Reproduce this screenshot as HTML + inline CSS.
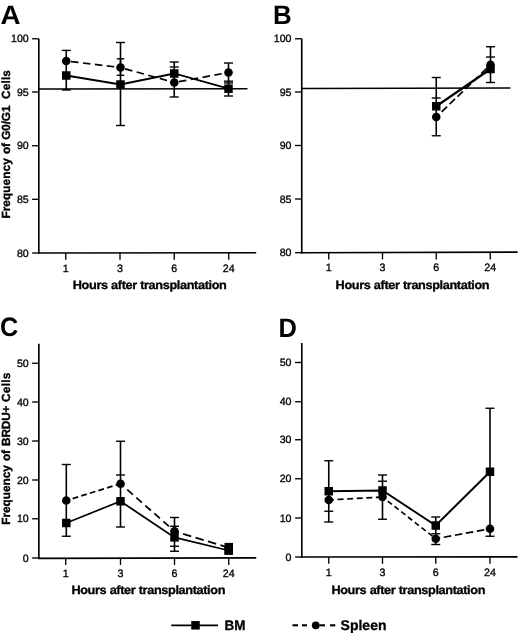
<!DOCTYPE html>
<html><head><meta charset="utf-8"><title>Figure</title>
<style>
html,body{margin:0;padding:0;background:#fff;}
body{width:520px;height:635px;overflow:hidden;}
svg{display:block;}
svg text{text-rendering:geometricPrecision;font-family:"Liberation Sans",Arial,Helvetica,sans-serif;fill:#000;}
</style></head><body>
<svg width="520" height="635" viewBox="0 0 520 635">
<defs><filter id="soft" x="0" y="0" width="520" height="635" filterUnits="userSpaceOnUse"><feGaussianBlur stdDeviation="0.35"/></filter></defs>
<rect width="520" height="635" fill="#fff"/>
<g filter="url(#soft)">
<line x1="38.8" y1="38.75" x2="38.8" y2="253.8" stroke="#000" stroke-width="1.65" stroke-linecap="butt"/>
<line x1="38.0" y1="253" x2="256.2" y2="252.75" stroke="#000" stroke-width="1.65" stroke-linecap="butt"/>
<line x1="32.099999999999994" y1="38.75" x2="38.8" y2="38.75" stroke="#000" stroke-width="1.35" stroke-linecap="butt"/>
<text x="28.7" y="42.25" font-size="10.6" text-anchor="end" stroke="#000" stroke-width="0.32">100</text>
<line x1="32.099999999999994" y1="92" x2="38.8" y2="92" stroke="#000" stroke-width="1.35" stroke-linecap="butt"/>
<text x="28.7" y="95.5" font-size="10.6" text-anchor="end" stroke="#000" stroke-width="0.32">95</text>
<line x1="32.099999999999994" y1="145.75" x2="38.8" y2="145.75" stroke="#000" stroke-width="1.35" stroke-linecap="butt"/>
<text x="28.7" y="149.25" font-size="10.6" text-anchor="end" stroke="#000" stroke-width="0.32">90</text>
<line x1="32.099999999999994" y1="199.3" x2="38.8" y2="199.3" stroke="#000" stroke-width="1.35" stroke-linecap="butt"/>
<text x="28.7" y="202.8" font-size="10.6" text-anchor="end" stroke="#000" stroke-width="0.32">85</text>
<line x1="32.099999999999994" y1="253" x2="38.8" y2="253" stroke="#000" stroke-width="1.35" stroke-linecap="butt"/>
<text x="28.7" y="256.5" font-size="10.6" text-anchor="end" stroke="#000" stroke-width="0.32">80</text>
<line x1="65.75" y1="253" x2="65.75" y2="259.7" stroke="#000" stroke-width="1.35" stroke-linecap="butt"/>
<text x="65.75" y="271.8" font-size="10.7" text-anchor="middle" stroke="#000" stroke-width="0.32">1</text>
<line x1="120" y1="253" x2="120" y2="259.7" stroke="#000" stroke-width="1.35" stroke-linecap="butt"/>
<text x="120" y="271.8" font-size="10.7" text-anchor="middle" stroke="#000" stroke-width="0.32">3</text>
<line x1="174.25" y1="253" x2="174.25" y2="259.7" stroke="#000" stroke-width="1.35" stroke-linecap="butt"/>
<text x="174.25" y="271.8" font-size="10.7" text-anchor="middle" stroke="#000" stroke-width="0.32">6</text>
<line x1="228.75" y1="253" x2="228.75" y2="259.7" stroke="#000" stroke-width="1.35" stroke-linecap="butt"/>
<text x="228.75" y="271.8" font-size="10.7" text-anchor="middle" stroke="#000" stroke-width="0.32">24</text>
<text x="0.5" y="23.6" font-size="26.7" text-anchor="start" font-weight="bold" transform="translate(0.5 23.6) scale(1.04 1) translate(-0.5 -23.6)">A</text>
<text x="72.8" y="288.9" font-size="12.0" text-anchor="start" font-weight="bold" stroke="#000" stroke-width="0.3" letter-spacing="-0.35" word-spacing="0.2" transform="translate(72.8 288.9) scale(1.06 1) translate(-72.8 -288.9)">Hours after transplantation</text>
<text x="10.3" y="218.6" font-size="11.8" text-anchor="start" font-weight="bold" stroke="#000" stroke-width="0.35" letter-spacing="-0.12" word-spacing="2.1" transform="rotate(-90 10.3 218.6)"><tspan letter-spacing="0.09">Frequency</tspan> <tspan dx="-1.1">of</tspan> <tspan dx="-2.0">G0/G1</tspan> <tspan dx="1.3" letter-spacing="0.2">Cells</tspan></text>
<line x1="38.75" y1="89" x2="247.5" y2="88.7" stroke="#000" stroke-width="1.5" stroke-linecap="butt"/>
<line x1="66.25" y1="50.4" x2="66.25" y2="90" stroke="#000" stroke-width="1.6" stroke-linecap="butt"/>
<line x1="61.75" y1="50.4" x2="70.75" y2="50.4" stroke="#000" stroke-width="1.4" stroke-linecap="butt"/>
<line x1="61.75" y1="90" x2="70.75" y2="90" stroke="#000" stroke-width="1.4" stroke-linecap="butt"/>
<line x1="120.5" y1="42.5" x2="120.5" y2="125.5" stroke="#000" stroke-width="1.6" stroke-linecap="butt"/>
<line x1="116.0" y1="42.5" x2="125.0" y2="42.5" stroke="#000" stroke-width="1.4" stroke-linecap="butt"/>
<line x1="116.0" y1="125.5" x2="125.0" y2="125.5" stroke="#000" stroke-width="1.4" stroke-linecap="butt"/>
<line x1="120.5" y1="58.8" x2="120.5" y2="75.3" stroke="#000" stroke-width="1.6" stroke-linecap="butt"/>
<line x1="116.75" y1="58.8" x2="124.25" y2="58.8" stroke="#000" stroke-width="1.4" stroke-linecap="butt"/>
<line x1="116.75" y1="75.3" x2="124.25" y2="75.3" stroke="#000" stroke-width="1.4" stroke-linecap="butt"/>
<line x1="174.25" y1="62" x2="174.25" y2="97" stroke="#000" stroke-width="1.6" stroke-linecap="butt"/>
<line x1="169.75" y1="62" x2="178.75" y2="62" stroke="#000" stroke-width="1.4" stroke-linecap="butt"/>
<line x1="169.75" y1="67" x2="178.75" y2="67" stroke="#000" stroke-width="1.4" stroke-linecap="butt"/>
<line x1="169.75" y1="97" x2="178.75" y2="97" stroke="#000" stroke-width="1.4" stroke-linecap="butt"/>
<line x1="228.5" y1="63" x2="228.5" y2="96" stroke="#000" stroke-width="1.6" stroke-linecap="butt"/>
<line x1="224.0" y1="63" x2="233.0" y2="63" stroke="#000" stroke-width="1.4" stroke-linecap="butt"/>
<line x1="224.0" y1="81.2" x2="233.0" y2="81.2" stroke="#000" stroke-width="1.4" stroke-linecap="butt"/>
<line x1="224.0" y1="83" x2="233.0" y2="83" stroke="#000" stroke-width="1.4" stroke-linecap="butt"/>
<line x1="224.0" y1="96" x2="233.0" y2="96" stroke="#000" stroke-width="1.4" stroke-linecap="butt"/>
<polyline fill="none" stroke="#000" stroke-width="1.8" points="66.25,75.5 120.5,84.5 174.25,73.5 228.5,88.7"/>
<line x1="66.25" y1="61" x2="120.5" y2="67.5" stroke="#000" stroke-width="1.75" stroke-dasharray="7.5 4.5" stroke-dashoffset="7.2"/>
<line x1="120.5" y1="67.5" x2="174.25" y2="82.5" stroke="#000" stroke-width="1.75" stroke-dasharray="7.5 4.5" stroke-dashoffset="7.2"/>
<line x1="174.25" y1="82.5" x2="228.5" y2="72.5" stroke="#000" stroke-width="1.75" stroke-dasharray="7.5 4.5" stroke-dashoffset="7.2"/>
<circle cx="66.25" cy="61" r="4.3" fill="#000"/>
<circle cx="120.5" cy="67.5" r="4.3" fill="#000"/>
<circle cx="174.25" cy="82.5" r="4.3" fill="#000"/>
<circle cx="228.5" cy="72.5" r="4.3" fill="#000"/>
<rect x="62.0" y="71.25" width="8.5" height="8.5" fill="#000"/>
<rect x="116.25" y="80.25" width="8.5" height="8.5" fill="#000"/>
<rect x="170.0" y="69.25" width="8.5" height="8.5" fill="#000"/>
<rect x="224.25" y="84.45" width="8.5" height="8.5" fill="#000"/>
<line x1="301.75" y1="38.75" x2="301.75" y2="253.5" stroke="#000" stroke-width="1.65" stroke-linecap="butt"/>
<line x1="300.95" y1="252.7" x2="517.7" y2="252.1" stroke="#000" stroke-width="1.65" stroke-linecap="butt"/>
<line x1="295.05" y1="38.75" x2="301.75" y2="38.75" stroke="#000" stroke-width="1.35" stroke-linecap="butt"/>
<text x="291.5" y="42.25" font-size="10.6" text-anchor="end" stroke="#000" stroke-width="0.32">100</text>
<line x1="295.05" y1="92" x2="301.75" y2="92" stroke="#000" stroke-width="1.35" stroke-linecap="butt"/>
<text x="291.5" y="95.5" font-size="10.6" text-anchor="end" stroke="#000" stroke-width="0.32">95</text>
<line x1="295.05" y1="145.5" x2="301.75" y2="145.5" stroke="#000" stroke-width="1.35" stroke-linecap="butt"/>
<text x="291.5" y="149.0" font-size="10.6" text-anchor="end" stroke="#000" stroke-width="0.32">90</text>
<line x1="295.05" y1="199" x2="301.75" y2="199" stroke="#000" stroke-width="1.35" stroke-linecap="butt"/>
<text x="291.5" y="202.5" font-size="10.6" text-anchor="end" stroke="#000" stroke-width="0.32">85</text>
<line x1="295.05" y1="252.7" x2="301.75" y2="252.7" stroke="#000" stroke-width="1.35" stroke-linecap="butt"/>
<text x="291.5" y="256.2" font-size="10.6" text-anchor="end" stroke="#000" stroke-width="0.32">80</text>
<line x1="328.75" y1="252.7" x2="328.75" y2="259.4" stroke="#000" stroke-width="1.35" stroke-linecap="butt"/>
<text x="328.75" y="271.2" font-size="10.7" text-anchor="middle" stroke="#000" stroke-width="0.32">1</text>
<line x1="382.5" y1="252.7" x2="382.5" y2="259.4" stroke="#000" stroke-width="1.35" stroke-linecap="butt"/>
<text x="382.5" y="271.2" font-size="10.7" text-anchor="middle" stroke="#000" stroke-width="0.32">3</text>
<line x1="436.25" y1="252.7" x2="436.25" y2="259.4" stroke="#000" stroke-width="1.35" stroke-linecap="butt"/>
<text x="436.25" y="271.2" font-size="10.7" text-anchor="middle" stroke="#000" stroke-width="0.32">6</text>
<line x1="490.25" y1="252.7" x2="490.25" y2="259.4" stroke="#000" stroke-width="1.35" stroke-linecap="butt"/>
<text x="490.25" y="271.2" font-size="10.7" text-anchor="middle" stroke="#000" stroke-width="0.32">24</text>
<text x="273" y="23.5" font-size="26.7" text-anchor="start" font-weight="bold" transform="translate(273 23.5) scale(0.97 1) translate(-273 -23.5)">B</text>
<text x="335.6" y="288.9" font-size="12.0" text-anchor="start" font-weight="bold" stroke="#000" stroke-width="0.3" letter-spacing="-0.35" word-spacing="0.2" transform="translate(335.6 288.9) scale(1.06 1) translate(-335.6 -288.9)">Hours after transplantation</text>
<line x1="301.75" y1="88.4" x2="510.5" y2="87.9" stroke="#000" stroke-width="1.5" stroke-linecap="butt"/>
<line x1="436.25" y1="77.5" x2="436.25" y2="135.75" stroke="#000" stroke-width="1.6" stroke-linecap="butt"/>
<line x1="431.75" y1="77.5" x2="440.75" y2="77.5" stroke="#000" stroke-width="1.4" stroke-linecap="butt"/>
<line x1="431.75" y1="98" x2="440.75" y2="98" stroke="#000" stroke-width="1.4" stroke-linecap="butt"/>
<line x1="431.75" y1="135.75" x2="440.75" y2="135.75" stroke="#000" stroke-width="1.4" stroke-linecap="butt"/>
<line x1="490.5" y1="46.75" x2="490.5" y2="82.5" stroke="#000" stroke-width="1.6" stroke-linecap="butt"/>
<line x1="486.0" y1="46.75" x2="495.0" y2="46.75" stroke="#000" stroke-width="1.4" stroke-linecap="butt"/>
<line x1="486.0" y1="57" x2="495.0" y2="57" stroke="#000" stroke-width="1.4" stroke-linecap="butt"/>
<line x1="486.0" y1="82.5" x2="495.0" y2="82.5" stroke="#000" stroke-width="1.4" stroke-linecap="butt"/>
<polyline fill="none" stroke="#000" stroke-width="2.2" points="436.25,106.25 490.5,69"/>
<line x1="436.25" y1="117" x2="490.5" y2="64.8" stroke="#000" stroke-width="1.75" stroke-dasharray="7.5 3.5" stroke-dashoffset="3.5"/>
<circle cx="436.25" cy="117" r="4.3" fill="#000"/>
<circle cx="490.5" cy="64.8" r="4.3" fill="#000"/>
<rect x="432.0" y="102.0" width="8.5" height="8.5" fill="#000"/>
<rect x="486.25" y="64.75" width="8.5" height="8.5" fill="#000"/>
<line x1="38.85" y1="343.75" x2="38.85" y2="559.0999999999999" stroke="#000" stroke-width="1.65" stroke-linecap="butt"/>
<line x1="38.050000000000004" y1="558.3" x2="256.25" y2="557.9" stroke="#000" stroke-width="1.65" stroke-linecap="butt"/>
<line x1="32.15" y1="363.25" x2="38.85" y2="363.25" stroke="#000" stroke-width="1.35" stroke-linecap="butt"/>
<text x="28.7" y="366.75" font-size="10.6" text-anchor="end" stroke="#000" stroke-width="0.32">50</text>
<line x1="32.15" y1="402" x2="38.85" y2="402" stroke="#000" stroke-width="1.35" stroke-linecap="butt"/>
<text x="28.7" y="405.5" font-size="10.6" text-anchor="end" stroke="#000" stroke-width="0.32">40</text>
<line x1="32.15" y1="441" x2="38.85" y2="441" stroke="#000" stroke-width="1.35" stroke-linecap="butt"/>
<text x="28.7" y="444.5" font-size="10.6" text-anchor="end" stroke="#000" stroke-width="0.32">30</text>
<line x1="32.15" y1="480" x2="38.85" y2="480" stroke="#000" stroke-width="1.35" stroke-linecap="butt"/>
<text x="28.7" y="483.5" font-size="10.6" text-anchor="end" stroke="#000" stroke-width="0.32">20</text>
<line x1="32.15" y1="518.75" x2="38.85" y2="518.75" stroke="#000" stroke-width="1.35" stroke-linecap="butt"/>
<text x="28.7" y="522.25" font-size="10.6" text-anchor="end" stroke="#000" stroke-width="0.32">10</text>
<line x1="32.15" y1="558.0" x2="38.85" y2="558.0" stroke="#000" stroke-width="1.35" stroke-linecap="butt"/>
<text x="28.7" y="561.5" font-size="10.6" text-anchor="end" stroke="#000" stroke-width="0.32">0</text>
<line x1="65.75" y1="558.3" x2="65.75" y2="565.0" stroke="#000" stroke-width="1.35" stroke-linecap="butt"/>
<text x="65.75" y="576.8" font-size="10.7" text-anchor="middle" stroke="#000" stroke-width="0.32">1</text>
<line x1="120.5" y1="558.3" x2="120.5" y2="565.0" stroke="#000" stroke-width="1.35" stroke-linecap="butt"/>
<text x="120.5" y="576.8" font-size="10.7" text-anchor="middle" stroke="#000" stroke-width="0.32">3</text>
<line x1="174.5" y1="558.3" x2="174.5" y2="565.0" stroke="#000" stroke-width="1.35" stroke-linecap="butt"/>
<text x="174.5" y="576.8" font-size="10.7" text-anchor="middle" stroke="#000" stroke-width="0.32">6</text>
<line x1="228.75" y1="558.3" x2="228.75" y2="565.0" stroke="#000" stroke-width="1.35" stroke-linecap="butt"/>
<text x="228.75" y="576.8" font-size="10.7" text-anchor="middle" stroke="#000" stroke-width="0.32">24</text>
<text x="-0.1" y="336.4" font-size="26.7" text-anchor="start" font-weight="bold" transform="translate(-0.1 336.4) scale(0.945 1) translate(0.1 -336.4)">C</text>
<text x="71.4" y="594" font-size="12.0" text-anchor="start" font-weight="bold" stroke="#000" stroke-width="0.3" letter-spacing="-0.35" word-spacing="0.2" transform="translate(71.4 594) scale(1.06 1) translate(-71.4 -594)">Hours after transplantation</text>
<text x="10.3" y="524.8" font-size="11.8" text-anchor="start" font-weight="bold" stroke="#000" stroke-width="0.35" letter-spacing="-0.15" word-spacing="0.8" transform="rotate(-90 10.3 524.8)"><tspan letter-spacing="0">Frequency</tspan> <tspan dx="0.15">of</tspan> <tspan dx="0.3">BRDU+</tspan> <tspan dx="-0.1" letter-spacing="0.25">Cells</tspan></text>
<line x1="66.3" y1="464.5" x2="66.3" y2="536.25" stroke="#000" stroke-width="1.6" stroke-linecap="butt"/>
<line x1="61.8" y1="464.5" x2="70.8" y2="464.5" stroke="#000" stroke-width="1.4" stroke-linecap="butt"/>
<line x1="61.8" y1="536.25" x2="70.8" y2="536.25" stroke="#000" stroke-width="1.4" stroke-linecap="butt"/>
<line x1="120.5" y1="441.25" x2="120.5" y2="527" stroke="#000" stroke-width="1.6" stroke-linecap="butt"/>
<line x1="116.0" y1="441.25" x2="125.0" y2="441.25" stroke="#000" stroke-width="1.4" stroke-linecap="butt"/>
<line x1="116.0" y1="475" x2="125.0" y2="475" stroke="#000" stroke-width="1.4" stroke-linecap="butt"/>
<line x1="116.0" y1="527" x2="125.0" y2="527" stroke="#000" stroke-width="1.4" stroke-linecap="butt"/>
<line x1="174.5" y1="517.5" x2="174.5" y2="551.25" stroke="#000" stroke-width="1.6" stroke-linecap="butt"/>
<line x1="170.0" y1="517.5" x2="179.0" y2="517.5" stroke="#000" stroke-width="1.4" stroke-linecap="butt"/>
<line x1="170.0" y1="526.25" x2="179.0" y2="526.25" stroke="#000" stroke-width="1.4" stroke-linecap="butt"/>
<line x1="170.0" y1="546.25" x2="179.0" y2="546.25" stroke="#000" stroke-width="1.4" stroke-linecap="butt"/>
<line x1="170.0" y1="551.25" x2="179.0" y2="551.25" stroke="#000" stroke-width="1.4" stroke-linecap="butt"/>
<polyline fill="none" stroke="#000" stroke-width="1.8" points="66.3,523 120.5,501.25 174.5,537.4 228.75,550.5"/>
<line x1="66.3" y1="500.5" x2="120.5" y2="483.75" stroke="#000" stroke-width="1.75" stroke-dasharray="5.8 3.2" stroke-dashoffset="2.4"/>
<line x1="120.5" y1="483.75" x2="174.5" y2="531.2" stroke="#000" stroke-width="1.75" stroke-dasharray="7.5 4.5" stroke-dashoffset="3"/>
<line x1="174.5" y1="531.2" x2="228.75" y2="547.7" stroke="#000" stroke-width="1.75" stroke-dasharray="8.5 4.5" stroke-dashoffset="4"/>
<circle cx="66.3" cy="500.5" r="4.3" fill="#000"/>
<circle cx="120.5" cy="483.75" r="4.3" fill="#000"/>
<circle cx="174.5" cy="531.2" r="4.3" fill="#000"/>
<circle cx="228.75" cy="547.7" r="4.3" fill="#000"/>
<rect x="62.05" y="518.75" width="8.5" height="8.5" fill="#000"/>
<rect x="116.25" y="497.0" width="8.5" height="8.5" fill="#000"/>
<rect x="170.25" y="533.15" width="8.5" height="8.5" fill="#000"/>
<rect x="224.5" y="546.25" width="8.5" height="8.5" fill="#000"/>
<rect x="224.5" y="542.9" width="8.5" height="11.7" fill="#000"/>
<line x1="301.8" y1="343" x2="301.8" y2="557.8" stroke="#000" stroke-width="1.65" stroke-linecap="butt"/>
<line x1="301.0" y1="557.0" x2="517.5" y2="556.9" stroke="#000" stroke-width="1.65" stroke-linecap="butt"/>
<line x1="295.1" y1="362.5" x2="301.8" y2="362.5" stroke="#000" stroke-width="1.35" stroke-linecap="butt"/>
<text x="291.5" y="366.0" font-size="10.6" text-anchor="end" stroke="#000" stroke-width="0.32">50</text>
<line x1="295.1" y1="401.75" x2="301.8" y2="401.75" stroke="#000" stroke-width="1.35" stroke-linecap="butt"/>
<text x="291.5" y="405.25" font-size="10.6" text-anchor="end" stroke="#000" stroke-width="0.32">40</text>
<line x1="295.1" y1="439.75" x2="301.8" y2="439.75" stroke="#000" stroke-width="1.35" stroke-linecap="butt"/>
<text x="291.5" y="443.25" font-size="10.6" text-anchor="end" stroke="#000" stroke-width="0.32">30</text>
<line x1="295.1" y1="478.75" x2="301.8" y2="478.75" stroke="#000" stroke-width="1.35" stroke-linecap="butt"/>
<text x="291.5" y="482.25" font-size="10.6" text-anchor="end" stroke="#000" stroke-width="0.32">20</text>
<line x1="295.1" y1="518" x2="301.8" y2="518" stroke="#000" stroke-width="1.35" stroke-linecap="butt"/>
<text x="291.5" y="521.5" font-size="10.6" text-anchor="end" stroke="#000" stroke-width="0.32">10</text>
<line x1="295.1" y1="557.0" x2="301.8" y2="557.0" stroke="#000" stroke-width="1.35" stroke-linecap="butt"/>
<text x="291.5" y="560.5" font-size="10.6" text-anchor="end" stroke="#000" stroke-width="0.32">0</text>
<line x1="328.75" y1="557.0" x2="328.75" y2="563.7" stroke="#000" stroke-width="1.35" stroke-linecap="butt"/>
<text x="328.75" y="575.8" font-size="10.7" text-anchor="middle" stroke="#000" stroke-width="0.32">1</text>
<line x1="382.5" y1="557.0" x2="382.5" y2="563.7" stroke="#000" stroke-width="1.35" stroke-linecap="butt"/>
<text x="382.5" y="575.8" font-size="10.7" text-anchor="middle" stroke="#000" stroke-width="0.32">3</text>
<line x1="435.75" y1="557.0" x2="435.75" y2="563.7" stroke="#000" stroke-width="1.35" stroke-linecap="butt"/>
<text x="435.75" y="575.8" font-size="10.7" text-anchor="middle" stroke="#000" stroke-width="0.32">6</text>
<line x1="490" y1="557.0" x2="490" y2="563.7" stroke="#000" stroke-width="1.35" stroke-linecap="butt"/>
<text x="490" y="575.8" font-size="10.7" text-anchor="middle" stroke="#000" stroke-width="0.32">24</text>
<text x="278.5" y="336.6" font-size="26.7" text-anchor="start" font-weight="bold" transform="translate(278.5 336.6) scale(0.955 1) translate(-278.5 -336.6)">D</text>
<text x="331.4" y="594" font-size="12.0" text-anchor="start" font-weight="bold" stroke="#000" stroke-width="0.3" letter-spacing="-0.35" word-spacing="0.2" transform="translate(331.4 594) scale(1.06 1) translate(-331.4 -594)">Hours after transplantation</text>
<line x1="328.75" y1="460.75" x2="328.75" y2="522" stroke="#000" stroke-width="1.6" stroke-linecap="butt"/>
<line x1="324.25" y1="460.75" x2="333.25" y2="460.75" stroke="#000" stroke-width="1.4" stroke-linecap="butt"/>
<line x1="324.25" y1="511.25" x2="333.25" y2="511.25" stroke="#000" stroke-width="1.4" stroke-linecap="butt"/>
<line x1="324.25" y1="522" x2="333.25" y2="522" stroke="#000" stroke-width="1.4" stroke-linecap="butt"/>
<line x1="382.5" y1="475" x2="382.5" y2="519.25" stroke="#000" stroke-width="1.6" stroke-linecap="butt"/>
<line x1="378.0" y1="475" x2="387.0" y2="475" stroke="#000" stroke-width="1.4" stroke-linecap="butt"/>
<line x1="378.0" y1="481.25" x2="387.0" y2="481.25" stroke="#000" stroke-width="1.4" stroke-linecap="butt"/>
<line x1="378.0" y1="519.25" x2="387.0" y2="519.25" stroke="#000" stroke-width="1.4" stroke-linecap="butt"/>
<line x1="435.75" y1="517" x2="435.75" y2="544.5" stroke="#000" stroke-width="1.6" stroke-linecap="butt"/>
<line x1="431.25" y1="517" x2="440.25" y2="517" stroke="#000" stroke-width="1.4" stroke-linecap="butt"/>
<line x1="431.25" y1="533.75" x2="440.25" y2="533.75" stroke="#000" stroke-width="1.4" stroke-linecap="butt"/>
<line x1="431.25" y1="544.5" x2="440.25" y2="544.5" stroke="#000" stroke-width="1.4" stroke-linecap="butt"/>
<line x1="490" y1="408.25" x2="490" y2="536.25" stroke="#000" stroke-width="1.6" stroke-linecap="butt"/>
<line x1="485.5" y1="408.25" x2="494.5" y2="408.25" stroke="#000" stroke-width="1.4" stroke-linecap="butt"/>
<line x1="485.5" y1="536.25" x2="494.5" y2="536.25" stroke="#000" stroke-width="1.4" stroke-linecap="butt"/>
<polyline fill="none" stroke="#000" stroke-width="2.0" points="328.75,491.25 382.5,490.5 435.75,525.5 490,471.75"/>
<line x1="328.75" y1="500" x2="382.5" y2="497" stroke="#000" stroke-width="1.7" stroke-dasharray="6.0 3.6" stroke-dashoffset="0.8"/>
<line x1="382.5" y1="497" x2="435.75" y2="538.75" stroke="#000" stroke-width="1.7" stroke-dasharray="5.3 3.3" stroke-dashoffset="2"/>
<line x1="435.75" y1="538.75" x2="490" y2="528.75" stroke="#000" stroke-width="1.7" stroke-dasharray="7.5 3.7" stroke-dashoffset="3"/>
<circle cx="328.75" cy="500" r="4.3" fill="#000"/>
<circle cx="382.5" cy="497" r="4.3" fill="#000"/>
<circle cx="435.75" cy="538.75" r="4.3" fill="#000"/>
<circle cx="490" cy="528.75" r="4.3" fill="#000"/>
<rect x="324.5" y="487.0" width="8.5" height="8.5" fill="#000"/>
<rect x="378.25" y="486.25" width="8.5" height="8.5" fill="#000"/>
<rect x="431.5" y="521.25" width="8.5" height="8.5" fill="#000"/>
<rect x="485.75" y="467.5" width="8.5" height="8.5" fill="#000"/>
<line x1="171.25" y1="625.3" x2="218" y2="625.3" stroke="#000" stroke-width="1.7" stroke-linecap="butt"/>
<rect x="191.25" y="621.05" width="8.5" height="8.5" fill="#000"/>
<text x="224.5" y="630.4" font-size="13.8" text-anchor="start" font-weight="bold" stroke="#000" stroke-width="0.3" textLength="21.0" lengthAdjust="spacingAndGlyphs">BM</text>
<line x1="292.5" y1="625.3" x2="298" y2="625.3" stroke="#000" stroke-width="2.1" stroke-linecap="butt"/>
<line x1="302" y1="625.3" x2="307" y2="625.3" stroke="#000" stroke-width="2.1" stroke-linecap="butt"/>
<line x1="319.5" y1="625.3" x2="325" y2="625.3" stroke="#000" stroke-width="2.1" stroke-linecap="butt"/>
<line x1="330" y1="625.3" x2="335.3" y2="625.3" stroke="#000" stroke-width="2.1" stroke-linecap="butt"/>
<circle cx="315.75" cy="625.3" r="3.9" fill="#000"/>
<text x="340.6" y="630.3" font-size="14" text-anchor="start" font-weight="bold" stroke="#000" stroke-width="0.3">Spleen</text>
</g>
</svg>
</body></html>
